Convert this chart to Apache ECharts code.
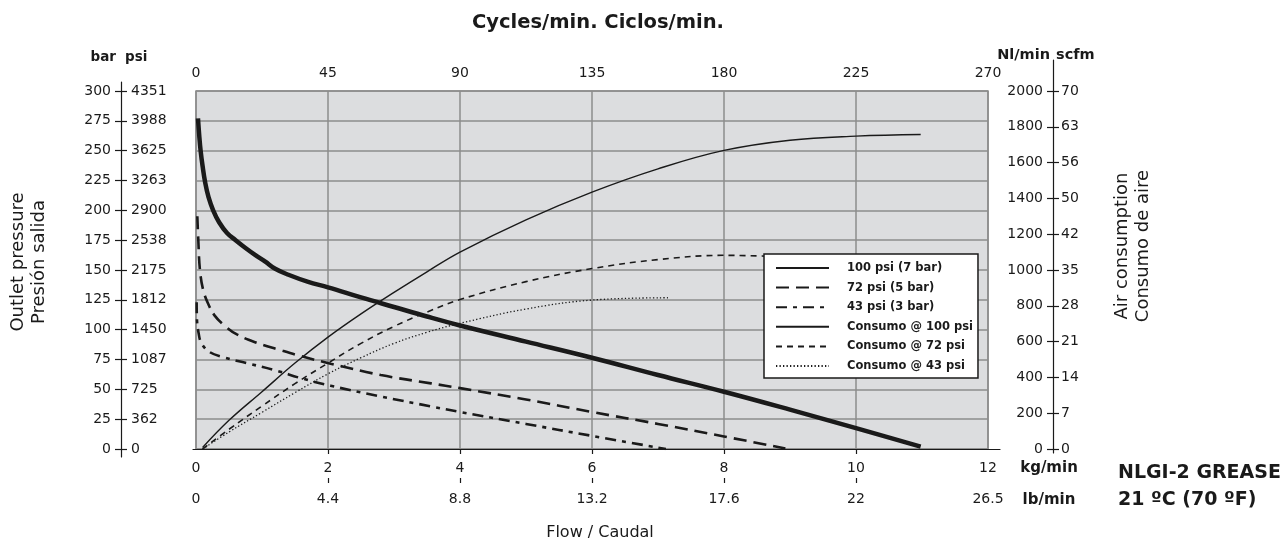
<!DOCTYPE html>
<html>
<head>
<meta charset="utf-8">
<script src="https://cdn.jsdelivr.net/npm/echarts@6/dist/echarts.min.js"></script>
<style>html,body{margin:0;padding:0;background:#fff;}#c{width:1282px;height:541px;}</style>
</head>
<body>
<div id="c"></div>
<script>
// ---- data ----
const kgTicks = [0, 2, 4, 6, 8, 10, 12];
const lbLabels = ['0', '4.4', '8.8', '13.2', '17.6', '22', '26.5'];
const lbTickValues = [2, 4, 6, 8, 10];
const barTicks = [0, 25, 50, 75, 100, 125, 150, 175, 200, 225, 250, 275, 300];
const psiLabels = ['0', '362', '725', '1087', '1450', '1812', '2175', '2538', '2900', '3263', '3625', '3988', '4351'];
const nlTicks = [0, 200, 400, 600, 800, 1000, 1200, 1400, 1600, 1800, 2000];
const scfmLabels = ['0', '7', '14', '21', '28', '35', '42', '50', '56', '63', '70'];
const seriesNames = ['100 psi (7 bar)', '72 psi (5 bar)', '43 psi (3 bar)', 'Consumo @ 100 psi', 'Consumo @ 72 psi', 'Consumo @ 43 psi'];

// outlet pressure (bar) vs flow (kg/min)
const p100 = [[0.03,277],[0.05,262],[0.07,250],[0.1,237],[0.14,223],[0.19,211],[0.26,200],[0.35,190],[0.47,181],[0.6,175],[0.75,168.5],[0.9,162.5],[1.05,157],[1.2,151],[1.4,146],[1.7,140],[2.0,135.5],[2.5,127],[3.0,119],[3.5,111],[4.0,103.5],[5,90],[6,76.5],[7,62],[8,48],[9,33],[10,17.5],[10.98,2]];
const p72 = [[0.02,195],[0.035,175],[0.06,150],[0.11,133],[0.19,121],[0.28,112],[0.42,104],[0.62,96],[0.92,89],[1.27,83],[1.58,78],[2.04,71.5],[2.8,62],[3.56,55],[4.0,51],[5,41.5],[6,31],[7,21],[8,10.5],[8.93,0.5]];
const p43 = [[0.01,123],[0.015,108],[0.04,97],[0.08,89],[0.2,81.5],[0.41,77],[0.77,72],[1.23,65.5],[1.58,59.5],[2.04,53],[2.8,44],[3.56,35.7],[4.0,31],[5,21],[6,11],[7.12,0]];
// air consumption (Nl/min) vs flow (kg/min)
const c100 = [[0.1,8],[0.5,160],[1.0,320],[1.5,480],[2.0,625],[2.5,755],[3.0,875],[3.5,990],[4.0,1100],[5,1280],[6,1435],[7,1565],[8,1668],[9,1725],[10,1748],[10.98,1757]];
const c72 = [[0.1,0],[0.5,110],[1.0,240],[1.5,365],[2.0,480],[2.5,590],[3.0,685],[3.5,765],[4.0,835],[5,935],[6,1008],[7,1058],[8,1082],[9,1072]];
const c43 = [[0.1,0],[0.5,95],[1.0,205],[1.5,315],[2.0,420],[2.5,510],[3.0,590],[3.5,652],[4.0,702],[5,782],[6,832],[7.15,845]];

// ---- chart ----
const F = 'DejaVu Sans';
const INK = '#1a1a1a';
const GRIDC = '#8c8c8c';
const chart = echarts.init(document.getElementById('c'), null, {renderer: 'canvas'});

function line(name, data, yIdx, width, type) {
  return {
    name: name, type: 'line', data: data, xAxisIndex: 0, yAxisIndex: yIdx,
    smooth: 0.4, symbol: 'none', showSymbol: false,
    lineStyle: {color: INK, width: width, type: type, cap: 'butt'},
    itemStyle: {color: INK}, z: 3
  };
}
function pick(ticks, labels) {
  return function (v) {
    let best = -1, d = 1e9;
    for (let i = 0; i < ticks.length; i++) { const e = Math.abs(ticks[i] - v); if (e < d) { d = e; best = i; } }
    return d < 1e-6 * Math.max(1, Math.abs(v)) + 1e-6 ? labels[best] : '';
  };
}
const nlLabels = nlTicks.map(String);
const barLabels = barTicks.map(String);

const tickLabel = {fontFamily: F, fontSize: 14, color: INK};
const NB = 'none';

const option = {
  animation: false,
  backgroundColor: '#fff',
  grid: [
    {left: 196, right: 294, top: 91, bottom: 92, show: true, backgroundColor: '#dcdddf', borderColor: GRIDC, borderWidth: 1.5, outerBoundsMode: NB, containLabel: false},
    {left: 121, width: 1, top: 82, bottom: 84, outerBoundsMode: NB, containLabel: false},
    {left: 1053, width: 1, top: 60, bottom: 88, outerBoundsMode: NB, containLabel: false},
    {left: 193, right: 282, top: 91, bottom: 92, outerBoundsMode: NB, containLabel: false}
  ],
  xAxis: [
    {gridIndex: 0, type: 'value', position: 'bottom', min: 0, max: 12, interval: 2,
     axisLine: {show: false}, axisTick: {show: false},
     axisLabel: Object.assign({margin: 12}, tickLabel),
     splitLine: {show: true, lineStyle: {color: GRIDC, width: 1.5}}},
    {gridIndex: 0, type: 'value', position: 'top', min: 0, max: 270, interval: 45,
     axisLine: {show: false}, axisTick: {show: false},
     axisLabel: Object.assign({margin: 11}, tickLabel),
     splitLine: {show: false},
     name: 'Cycles/min. Ciclos/min.', nameLocation: 'middle', nameGap: 58,
     nameTextStyle: {fontFamily: F, fontSize: 19.5, fontWeight: 'bold', color: INK, padding: [0, 0, 0, 12]}},
    {gridIndex: 3, type: 'value', position: 'bottom', offset: 34, min: -3 / 66, max: 12 + 12 / 66,
     axisLine: {show: true, lineStyle: {color: INK, width: 1.2}},
     axisTick: {show: true, customValues: lbTickValues, length: 5, lineStyle: {color: INK, width: 1.2}},
     axisLabel: Object.assign({margin: 9, customValues: kgTicks, formatter: pick(kgTicks, lbLabels)}, tickLabel),
     splitLine: {show: false}},
    {gridIndex: 3, type: 'value', position: 'bottom', offset: 34, min: -3 / 66, max: 12 + 12 / 66,
     axisLine: {show: false},
     axisTick: {show: true, inside: true, customValues: lbTickValues, length: 5, lineStyle: {color: INK, width: 1.2}},
     axisLabel: {show: false}, splitLine: {show: false}},
    {gridIndex: 1, type: 'value', show: false},
    {gridIndex: 2, type: 'value', show: false}
  ],
  yAxis: [
    {gridIndex: 0, type: 'value', min: 0, max: 300, interval: 25,
     axisLine: {show: false}, axisTick: {show: false}, axisLabel: {show: false},
     splitLine: {show: true, lineStyle: {color: GRIDC, width: 1.5}}},
    {gridIndex: 0, type: 'value', min: 0, max: 2000, show: false, splitLine: {show: false}},
    // left pressure axis: bar (outside) and psi (inside)
    {gridIndex: 1, type: 'value', position: 'left', min: -8 / (358 / 300), max: 300 + 9 / (358 / 300),
     axisLine: {show: true, lineStyle: {color: INK, width: 1.2}},
     axisTick: {show: true, customValues: barTicks, length: 6, lineStyle: {color: INK, width: 1.2}},
     axisLabel: Object.assign({customValues: barTicks, margin: 10, formatter: pick(barTicks, barLabels)}, tickLabel),
     splitLine: {show: false}},
    {gridIndex: 1, type: 'value', position: 'left', min: -8 / (358 / 300), max: 300 + 9 / (358 / 300),
     axisLine: {show: false},
     axisTick: {show: true, inside: true, customValues: barTicks, length: 6, lineStyle: {color: INK, width: 1.2}},
     axisLabel: Object.assign({customValues: barTicks, inside: true, margin: 10, formatter: pick(barTicks, psiLabels)}, tickLabel),
     splitLine: {show: false}},
    // right consumption axis: Nl/min (left of line) and scfm (right of line)
    {gridIndex: 2, type: 'value', position: 'left', min: -4 / (358 / 2000), max: 2000 + 31 / (358 / 2000),
     axisLine: {show: true, lineStyle: {color: INK, width: 1.2}},
     axisTick: {show: true, customValues: nlTicks, length: 6, lineStyle: {color: INK, width: 1.2}},
     axisLabel: Object.assign({customValues: nlTicks, margin: 10, formatter: pick(nlTicks, nlLabels)}, tickLabel),
     splitLine: {show: false}},
    {gridIndex: 2, type: 'value', position: 'left', min: -4 / (358 / 2000), max: 2000 + 31 / (358 / 2000),
     axisLine: {show: false},
     axisTick: {show: true, inside: true, customValues: nlTicks, length: 6, lineStyle: {color: INK, width: 1.2}},
     axisLabel: Object.assign({customValues: nlTicks, inside: true, margin: 8, formatter: pick(nlTicks, scfmLabels)}, tickLabel),
     splitLine: {show: false}},
    {gridIndex: 3, type: 'value', show: false}
  ],
  legend: {
    orient: 'vertical', left: 764, top: 254,
    data: seriesNames,
    backgroundColor: '#ffffff', borderColor: INK, borderWidth: 1.5, borderRadius: 0,
    padding: [7, 5, 5, 11], itemWidth: 53, itemHeight: 14, itemGap: 5.6,
    selectedMode: false,
    itemStyle: {opacity: 0, color: 'transparent', borderWidth: 0},
    textStyle: {fontFamily: F, fontSize: 11.5, fontWeight: 'bold', color: INK, padding: [0, 0, 0, 13], lineHeight: 14}
  },
  series: [
    line(seriesNames[0], p100, 0, 4.5, 'solid'),
    line(seriesNames[1], p72, 0, 2.6, [13, 7]),
    line(seriesNames[2], p43, 0, 2.6, [11, 6, 4, 6]),
    line(seriesNames[3], c100, 1, 1.4, 'solid'),
    line(seriesNames[4], c72, 1, 1.6, [6, 5]),
    line(seriesNames[5], c43, 1, 1.3, [1.3, 2.2])
  ],
  graphic: [
    {type: 'text', x: 116, y: 57, style: {text: 'bar', font: 'bold 13.5px "DejaVu Sans"', fill: INK, align: 'right', verticalAlign: 'middle'}},
    {type: 'text', x: 125, y: 57, style: {text: 'psi', font: 'bold 13.5px "DejaVu Sans"', fill: INK, align: 'left', verticalAlign: 'middle'}},
    {type: 'text', x: 1050, y: 55, style: {text: 'Nl/min', font: 'bold 14.5px "DejaVu Sans"', fill: INK, align: 'right', verticalAlign: 'middle'}},
    {type: 'text', x: 1056, y: 55, style: {text: 'scfm', font: 'bold 14.5px "DejaVu Sans"', fill: INK, align: 'left', verticalAlign: 'middle'}},
    {type: 'text', x: 1049, y: 468, style: {text: 'kg/min', font: 'bold 15px "DejaVu Sans"', fill: INK, align: 'center', verticalAlign: 'middle'}},
    {type: 'text', x: 1049, y: 500, style: {text: 'lb/min', font: 'bold 15px "DejaVu Sans"', fill: INK, align: 'center', verticalAlign: 'middle'}},
    {type: 'text', x: 600, y: 533, style: {text: 'Flow / Caudal', font: '16px "DejaVu Sans"', fill: INK, align: 'center', verticalAlign: 'middle'}},
    {type: 'text', x: 1118, y: 473, style: {text: 'NLGI-2 GREASE', font: 'bold 19px "DejaVu Sans"', fill: INK, align: 'left', verticalAlign: 'middle'}},
    {type: 'text', x: 1118, y: 500, style: {text: '21 ºC (70 ºF)', font: 'bold 19px "DejaVu Sans"', fill: INK, align: 'left', verticalAlign: 'middle'}},
    {type: 'text', x: 29, y: 262, rotation: Math.PI / 2, style: {text: 'Outlet pressure\nPresión salida', font: '18px "DejaVu Sans"', lineHeight: 21, fill: INK, align: 'center', verticalAlign: 'middle'}},
    {type: 'text', x: 1133, y: 246, rotation: Math.PI / 2, style: {text: 'Air consumption\nConsumo de aire', font: '18px "DejaVu Sans"', lineHeight: 21, fill: INK, align: 'center', verticalAlign: 'middle'}}
  ]
};
chart.setOption(option);
</script>
</body>
</html>
